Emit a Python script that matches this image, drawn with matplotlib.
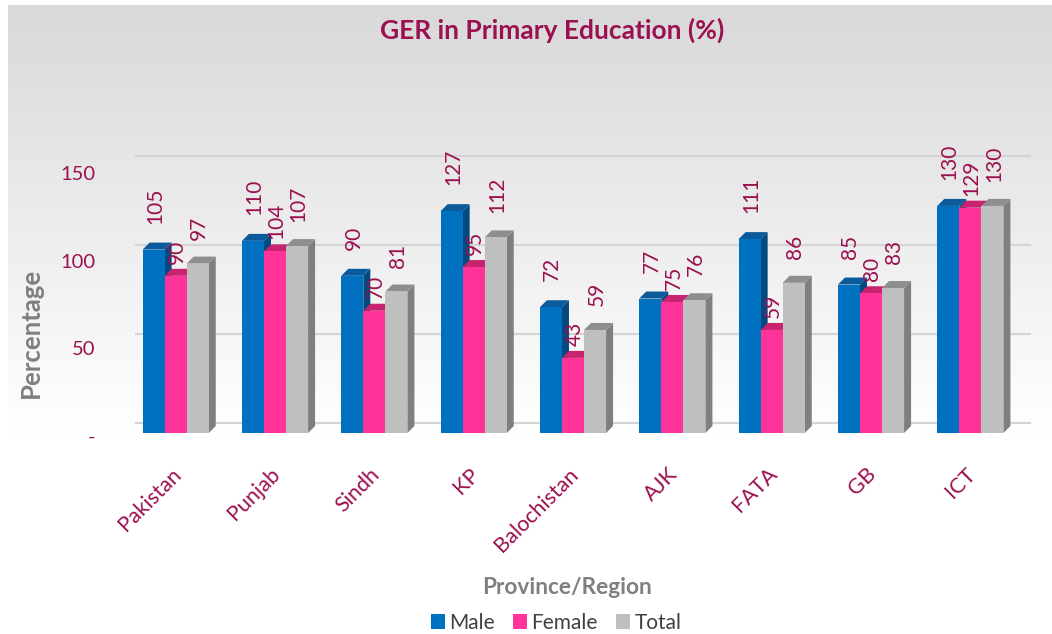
import numpy as np
import matplotlib
matplotlib.use("Agg")
import matplotlib.pyplot as plt
import matplotlib.transforms as mtransforms
from matplotlib.patches import Polygon, Patch

categories = ["Pakistan", "Punjab", "Sindh", "KP", "Balochistan", "AJK", "FATA", "GB", "ICT"]
male = [105, 110, 90, 127, 72, 77, 111, 85, 130]
female = [90, 104, 70, 95, 43, 75, 59, 80, 129]
total = [97, 107, 81, 112, 59, 76, 86, 83, 130]
series_names = ["Male", "Female", "Total"]
y_ticks = [0, 50, 100, 150]
y_tick_labels = ["-", "50", "100", "150"]

front_colors = ["#0070C0", "#FF3399", "#BFBFBF"]
top_colors = ["#0A5A9C", "#C8236F", "#8E8E8E"]
side_colors = ["#004A80", "#B01A62", "#7F7F7F"]
label_color = "#9B1050"
label_pad_px = [26, 12, 24]

W, H = 1052, 634
fig = plt.figure(figsize=(W / 100, H / 100), dpi=100)
fig.patch.set_facecolor("white")

# gradient background panel
bg = fig.add_axes([8 / W, 0, 1 - 8 / W, 1 - 5 / H], zorder=-10)
grad = np.linspace(0, 1, 256).reshape(-1, 1)
top_c = np.array([0.85, 0.85, 0.85])
img = np.ones((256, 1, 3))
t = np.clip(grad / 0.68, 0, 1)
img[:, 0, :] = top_c * (1 - t) + 1.0 * t
bg.imshow(img, aspect="auto", extent=[0, 1, 0, 1], origin="upper")
bg.set_axis_off()

# main axes
left_px, right_px = 126, 1020
base_px, top_px = 433, 171
ax = fig.add_axes([left_px / W, 1 - base_px / H, (right_px - left_px) / W, (base_px - top_px) / H])
ax.set_facecolor("none")
ax.set_xlim(-0.5, len(categories) - 0.5)
ax.set_ylim(0, 150)
for s in ax.spines.values():
    s.set_visible(False)

# pixel -> data conversions for depth
px_per_x = (right_px - left_px) / len(categories)
px_per_y = (base_px - top_px) / 150.0
depth_x = 7 / px_per_x
depth_y = 7 / px_per_y
wall_dx = 10 / px_per_x
wall_dy = 10 / px_per_y
wall_scale = 1.02

# back wall gridlines
for yv in y_ticks:
    yy = yv * wall_scale + wall_dy
    ax.plot([-0.5 + wall_dx, len(categories) - 0.5 + wall_dx], [yy, yy],
            color="#D4D4D4", lw=1.6, zorder=0, clip_on=False)

bw = 0.222
x = np.arange(len(categories))
data = [male, female, total]
offsets = [-bw, 0, bw]
for si, vals in enumerate(data):
    for i, v in enumerate(vals):
        x0 = x[i] + offsets[si] - bw / 2
        x1 = x0 + bw
        z = 2 + si
        side = Polygon([(x1, 0), (x1 + depth_x, depth_y), (x1 + depth_x, v + depth_y), (x1, v)],
                       closed=True, facecolor=side_colors[si], edgecolor="none", zorder=z, clip_on=False)
        topf = Polygon([(x0, v), (x0 + depth_x, v + depth_y), (x1 + depth_x, v + depth_y), (x1, v)],
                       closed=True, facecolor=top_colors[si], edgecolor="none", zorder=z, clip_on=False)
        ax.add_patch(side)
        ax.add_patch(topf)
    ax.bar(x + offsets[si], vals, width=bw, color=front_colors[si], zorder=2 + si + 0.5,
           linewidth=0, clip_on=False)
    for i, v in enumerate(vals):
        ax.annotate(str(v), (x[i] + offsets[si], v), xytext=(1, label_pad_px[si] * 0.72),
                    textcoords="offset points", rotation=90, ha="center", va="bottom",
                    color=label_color, fontsize=15, family="Lato", zorder=10, annotation_clip=False)

# y tick labels (drawn as text, slightly below the tick value like the original)
ax.set_yticks([])
ylab_tr = mtransforms.blended_transform_factory(ax.transAxes, ax.transData) + \
    mtransforms.ScaledTranslation(-31 / 100, -4 / 100, fig.dpi_scale_trans)
for yv, lab in zip(y_ticks, y_tick_labels):
    ax.text(0, yv, lab, transform=ylab_tr, ha="right", va="center", color=label_color,
            fontsize=14.5, family="Lato", clip_on=False)
ax.set_xticks([])

# category labels, rotated
xlab_tr = mtransforms.blended_transform_factory(ax.transData, ax.transAxes) + \
    mtransforms.ScaledTranslation(-5 / 100, -31 / 100, fig.dpi_scale_trans)
for i, name in enumerate(categories):
    ax.text(x[i], 0, name, transform=xlab_tr, rotation=45, ha="right", va="top",
            rotation_mode="anchor", color=label_color, fontsize=15.5, family="Lato", clip_on=False)

fig.text(552 / W, 1 - 30 / H, "GER in Primary Education (%)", ha="center", va="center",
         fontsize=19, fontweight="bold", color=label_color, family="Lato")
fig.text(31 / W, 1 - 333 / H, "Percentage", rotation=90, ha="center", va="center",
         fontsize=18.5, fontweight="bold", color="#7F7F7F", family="Lato")
fig.text(567 / W, 1 - 588 / H, "Province/Region", ha="center", va="center",
         fontsize=16.3, fontweight="bold", color="#7F7F7F", family="Lato")

handles = [Patch(facecolor=c, edgecolor="none") for c in front_colors]
fig.legend(handles, series_names, loc="center", bbox_to_anchor=(556 / W, 1 - 623 / H), ncol=3,
           frameon=False, prop={"family": "Lato", "size": 15}, handlelength=0.7, handleheight=0.7,
           handletextpad=0.2, columnspacing=0.85, labelcolor="#404040")

fig.savefig("out.png", dpi=100)
